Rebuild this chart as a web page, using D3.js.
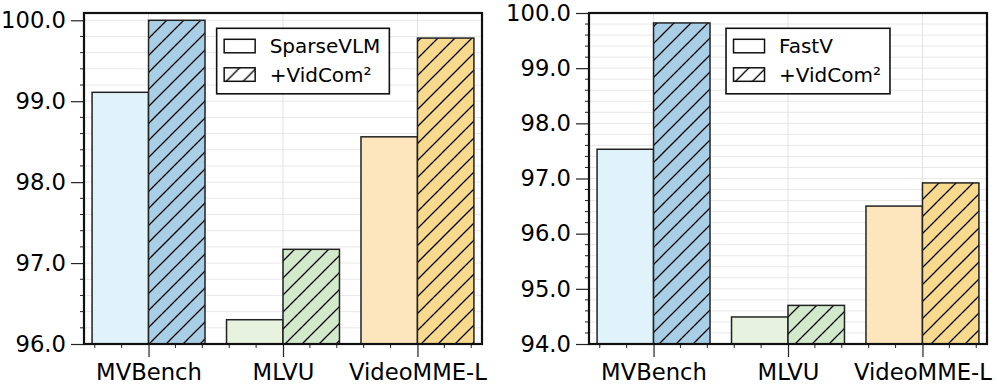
<!DOCTYPE html>
<html>
<head>
<meta charset="utf-8">
<script src="https://cdn.jsdelivr.net/npm/d3@7"></script>
<style>
  body { margin: 0; background: #fff; }
  svg { display: block; font-family: "DejaVu Sans", sans-serif; }
</style>
</head>
<body>
<div id="chart"></div>
<script>
// data
const categories = ["MVBench", "MLVU", "VideoMME-L"];
const sparseVLM = [99.11, 96.30, 98.56];
const sparseVidCom = [100.0, 97.17, 99.78];
const fastV = [97.53, 94.49, 96.50];
const fastVidCom = [99.82, 94.70, 96.92];
const leftTicks = [96, 97, 98, 99, 100];
const rightTicks = [94, 95, 96, 97, 98, 99, 100];
const baseColors = ["#e0f2fa", "#e7f2df", "#fde6be"];
const plusColors = ["#a9cfe6", "#d3e9cb", "#f7da8e"];

const width = 997, height = 384;
const plotTop = 13, plotBottom = 344;
const barW = 0.42;
const font = "DejaVu Sans";

const svg = d3.select("#chart")
    .append("svg")
    .attr("width", width)
    .attr("height", height);

// diagonal hatch, like matplotlib "/"
const defs = svg.append("defs");
const pat = defs.append("pattern")
    .attr("id", "hatch")
    .attr("patternUnits", "userSpaceOnUse")
    .attr("width", 17)
    .attr("height", 17);
pat.append("path")
    .attr("d", "M-2,2 L2,-2 M0,17 L17,0 M15,19 L19,15")
    .attr("stroke", "#000")
    .attr("stroke-width", 1.3);

const panels = [
    {x0: 84, x1: 482, domain: [96, 100.09], ticks: leftTicks,
     base: sparseVLM, plus: sparseVidCom, names: ["SparseVLM", "+VidCom²"]},
    {x0: 589, x1: 987, domain: [94, 100], ticks: rightTicks,
     base: fastV, plus: fastVidCom, names: ["FastV", "+VidCom²"]}
];

panels.forEach(p => {
    const x = d3.scaleLinear().domain([-0.48, 2.48]).range([p.x0, p.x1]);
    const y = d3.scaleLinear().domain(p.domain).range([plotBottom, plotTop]);
    const g = svg.append("g");

    // grid
    const minorY = d3.range(Math.ceil(p.domain[0] * 5), Math.floor(p.domain[1] * 5) + 1).map(k => k / 5);
    g.append("g")
        .selectAll("line")
        .data(minorY)
        .enter()
        .append("line")
        .attr("x1", p.x0).attr("x2", p.x1)
        .attr("y1", d => y(d)).attr("y2", d => y(d))
        .attr("stroke", "#e8e8e8")
        .attr("stroke-width", 1);
    g.append("g")
        .selectAll("line")
        .data(categories.map((c, i) => i))
        .enter()
        .append("line")
        .attr("x1", d => x(d)).attr("x2", d => x(d))
        .attr("y1", plotTop).attr("y2", plotBottom)
        .attr("stroke", "#e2e2e2")
        .attr("stroke-width", 1);

    // bars
    const bars = g.append("g");
    p.base.forEach((v, i) => {
        bars.append("rect")
            .attr("x", x(i - barW)).attr("width", x(i) - x(i - barW))
            .attr("y", y(v)).attr("height", plotBottom - y(v))
            .attr("fill", baseColors[i])
            .attr("stroke", "#222").attr("stroke-width", 1.5);
    });
    p.plus.forEach((v, i) => {
        bars.append("rect")
            .attr("x", x(i)).attr("width", x(i + barW) - x(i))
            .attr("y", y(v)).attr("height", plotBottom - y(v))
            .attr("fill", plusColors[i]);
        bars.append("rect")
            .attr("x", x(i)).attr("width", x(i + barW) - x(i))
            .attr("y", y(v)).attr("height", plotBottom - y(v))
            .attr("fill", "url(#hatch)")
            .attr("stroke", "#222").attr("stroke-width", 1.5);
    });

    // axes
    const yAxis = d3.axisLeft(y)
        .tickValues(p.ticks)
        .tickFormat(d3.format(".1f"))
        .tickSize(13)
        .tickPadding(5);
    const ya = g.append("g").attr("transform", `translate(${p.x0},0)`).call(yAxis);
    ya.attr("font-family", font).attr("font-size", 22.7);
    ya.select(".domain").remove();
    ya.selectAll("text").attr("fill", "#000");
    ya.selectAll("line").attr("stroke", "#222").attr("stroke-width", 1.2);

    g.append("g")
        .selectAll("line")
        .data(minorY.filter(d => Math.abs(d - Math.round(d)) > 1e-6))
        .enter()
        .append("line")
        .attr("x1", p.x0 - 4).attr("x2", p.x0)
        .attr("y1", d => y(d)).attr("y2", d => y(d))
        .attr("stroke", "#222").attr("stroke-width", 1);

    const xAxis = d3.axisBottom(x)
        .tickValues([0, 1, 2])
        .tickFormat(i => categories[i])
        .tickSize(13)
        .tickPadding(7);
    const xa = g.append("g").attr("transform", `translate(0,${plotBottom})`).call(xAxis);
    xa.attr("font-family", font).attr("font-size", 22.7);
    xa.select(".domain").remove();
    xa.selectAll("text").attr("fill", "#000");
    xa.selectAll("line").attr("stroke", "#222").attr("stroke-width", 1.2);

    const minorX = d3.range(-2, 13).map(k => k / 5).filter(d => Math.abs(d - Math.round(d)) > 1e-6);
    g.append("g")
        .selectAll("line")
        .data(minorX)
        .enter()
        .append("line")
        .attr("x1", d => x(d)).attr("x2", d => x(d))
        .attr("y1", plotBottom).attr("y2", plotBottom + 4)
        .attr("stroke", "#222").attr("stroke-width", 1);

    // frame
    g.append("rect")
        .attr("x", p.x0).attr("y", plotTop)
        .attr("width", p.x1 - p.x0).attr("height", plotBottom - plotTop)
        .attr("fill", "none")
        .attr("stroke", "#111").attr("stroke-width", 2.2);

    // legend
    const leg = g.append("g");
    const box = leg.append("rect")
        .attr("fill", "#fff")
        .attr("stroke", "#111").attr("stroke-width", 1.6);
    const rows = p.names.map((n, k) => {
        const row = leg.append("g").attr("transform", `translate(0,${k * 28.5})`);
        row.append("rect")
            .attr("x", 7.5).attr("y", 11).attr("width", 31).attr("height", 13.5)
            .attr("fill", "#fff");
        row.append("rect")
            .attr("x", 7.5).attr("y", 11).attr("width", 31).attr("height", 13.5)
            .attr("fill", k ? "url(#hatch)" : "none")
            .attr("stroke", "#111").attr("stroke-width", 1.5);
        return row.append("text")
            .attr("x", 53).attr("y", 25)
            .attr("font-family", font)
            .attr("font-size", 20)
            .text(n);
    });
    const textW = d3.max(rows, t => t.node().getComputedTextLength());
    const boxW = 53 + textW + 9;
    box.attr("x", 0).attr("y", 0).attr("width", boxW).attr("height", 65.5);
    const cx = (p.x0 + p.x1) / 2 + 20;
    leg.attr("transform", `translate(${cx - boxW / 2},28.3)`);
});
</script>
</body>
</html>
